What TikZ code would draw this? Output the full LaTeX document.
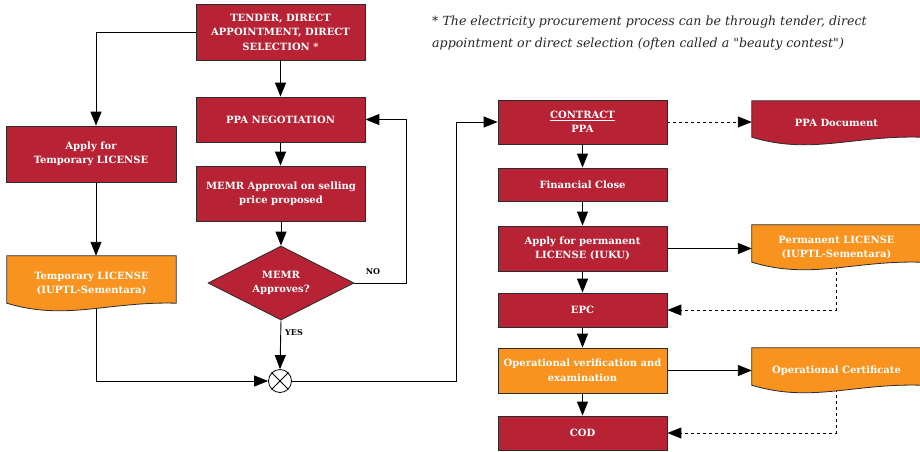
\documentclass[tikz,border=0pt]{standalone}
\usepackage{fontspec}
\setmainfont{DejaVu Serif}
\usetikzlibrary{arrows.meta,calc,shapes.geometric}
\definecolor{crimson}{HTML}{B72234}
\definecolor{amber}{HTML}{F7931E}
\definecolor{edge}{HTML}{2B2B2B}
\pgfdeclarelayer{bg}
\pgfdeclarelayer{mid}
\pgfsetlayers{bg,mid,main}
\newcommand\docoutline[2]{%
  \begin{pgfonlayer}{mid}
  \draw[line width=0.8pt, draw=edge, fill=#2]
    (#1.north west) -- (#1.north east) -- ($(#1.south east)+(0,-8)$)
    .. controls ($(#1.south west)!0.6!(#1.south east)+(0,-10)$)
           and ($(#1.south west)!0.35!(#1.south east)+(0,10)$)
    .. ($(#1.south west)+(0,-8)$) -- cycle;
  \end{pgfonlayer}}
\begin{document}
\begin{tikzpicture}[x=1pt,y=-1pt,
  boxtext/.style={text=white, font=\bfseries\fontsize{10}{14.5}\selectfont, align=center, inner sep=0pt},
  procbox/.style={boxtext, draw=edge, line width=0.8pt, fill=crimson, minimum width=169pt},
  orangebox/.style={procbox, fill=amber},
  docnode/.style={boxtext, minimum width=169pt},
  decision/.style={boxtext, diamond, draw=edge, line width=0.8pt, fill=crimson, minimum width=146pt, minimum height=74pt, aspect=1.97},
  junction/.style={circle, draw=black, line width=0.8pt, fill=white, minimum size=23pt, inner sep=0pt},
  conn/.style={line width=0.9pt, draw=black},
  arr/.style={conn, -{Triangle[length=14pt,width=11pt]}},
  dotarr/.style={arr, dash pattern=on 3pt off 3pt},
  lbl/.style={font=\bfseries\fontsize{8}{9}\selectfont, text=black, inner sep=0pt},
  note/.style={font=\itshape\fontsize{12.6}{15}\selectfont, text=black!85, inner sep=0pt, anchor=base west}
]
\path[use as bounding box] (0,0) rectangle (920,451);
\clip (0,0) rectangle (920,451);

% left and middle column
\node[procbox, minimum height=56pt] (tender) at (280.5,32) {TENDER, DIRECT\\APPOINTMENT, DIRECT\\SELECTION *};
\node[procbox, minimum height=45pt] (ppaneg) at (280.5,119.5) {PPA NEGOTIATION};
\node[procbox, minimum height=55pt] (memr) at (281,193.5) {MEMR Approval on selling\\price proposed};
\node[decision] (dia) at (281,283) {MEMR\\Approves?};
\node[junction] (junc) at (280,381) {};
\draw[line width=0.8pt] (junc.north east) -- (junc.south west) (junc.north west) -- (junc.south east);

\node[procbox, minimum width=170pt, minimum height=56pt] (applytemp) at (91,154) {Apply for\\Temporary LICENSE};
\node[docnode, minimum height=55pt] (tempdoc) at (91.5,283.5) {Temporary LICENSE\\(IUPTL-Sementara)};
\docoutline{tempdoc}{amber}

% right column
\node[procbox, minimum height=44pt] (contract) at (582.5,122) {\underline{CONTRACT}\\PPA};
\node[procbox, minimum height=33pt] (fin) at (582.5,184.5) {Financial Close};
\node[procbox, minimum height=45pt] (applyperm) at (582.5,248.5) {Apply for permanent\\LICENSE (IUKU)};
\node[procbox, minimum height=34pt] (epc) at (582.5,310) {EPC};
\node[orangebox, minimum height=45pt] (opver) at (582.5,370.5) {Operational verification and\\examination};
\node[procbox, minimum height=34pt] (cod) at (582.5,433) {COD};

\node[docnode, minimum height=44pt] (ppadoc) at (836.5,123) {PPA Document};
\docoutline{ppadoc}{crimson}
\node[docnode, minimum height=45pt] (permdoc) at (836.5,247.5) {Permanent LICENSE\\(IUPTL-Sementara)};
\docoutline{permdoc}{amber}
\node[docnode, minimum height=45pt] (certdoc) at (836.5,370.5) {Operational Certificate};
\docoutline{certdoc}{amber}

% labels and note
\node[lbl] (nolbl) at (373,272) {NO};
\node[lbl] (yeslbl) at (294,333) {YES};
\node[note] (note1) at (432,25) {* The electricity procurement process can be through tender, direct};
\node[note] (note2) at (432,47) {appointment or direct selection (often called a \textquotedbl beauty contest\textquotedbl)};

\coordinate (nocorner) at (406,119.5);
\coordinate (jcorner) at (456,122);

\begin{pgfonlayer}{bg}
\draw[arr] (tender.west) -| ([xshift=5pt]applytemp.north);
\draw[arr] (tender.south) -- (ppaneg.north);
\draw[arr] (ppaneg.south) -- (ppaneg.south |- memr.north);
\draw[arr] (memr.south) -- (dia.north);
\draw[arr] (dia.east) -| (nocorner) -- (ppaneg.east);
\draw[arr] (dia.south) -- (junc.north);
\draw[arr] ([xshift=5pt]applytemp.south) -- ([xshift=4.5pt]tempdoc.north);
\draw[arr] ([xshift=4.5pt,yshift=4pt]tempdoc.south) |- (junc.west);
\draw[arr] (junc.east) -| (jcorner) -- (contract.west);
\draw[arr] (contract.south) -- (fin.north);
\draw[arr] (fin.south) -- (applyperm.north);
\draw[arr] (applyperm.south) -- (epc.north);
\draw[arr] (epc.south) -- (opver.north);
\draw[arr] (opver.south) -- (cod.north);
\draw[dotarr] (contract.east) -- (contract.east -| ppadoc.west);
\draw[arr] (applyperm.east) -- (applyperm.east -| permdoc.west);
\draw[arr] (opver.east) -- (opver.east -| certdoc.west);
\draw[dotarr] ([yshift=4pt]permdoc.south) |- (epc.east);
\draw[dotarr] ([yshift=4pt]certdoc.south) |- (cod.east);
\end{pgfonlayer}
\end{tikzpicture}
\end{document}
